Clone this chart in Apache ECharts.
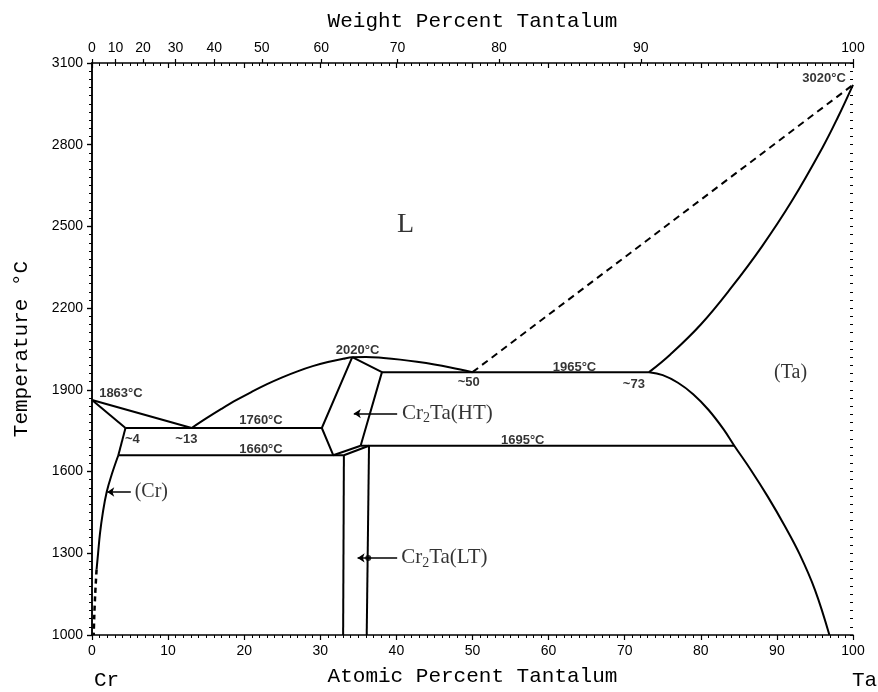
<!DOCTYPE html>
<html>
<head>
<meta charset="utf-8">
<script src="https://cdn.jsdelivr.net/npm/echarts@6/dist/echarts.min.js"></script>
<style>
html,body{margin:0;padding:0;background:#fff;}
#chart{width:878px;height:692px;}
</style>
</head>
<body>
<div id="chart"></div>
<script>
// ---------- data (atomic % Ta, temperature °C) ----------
const tempTicks = [1000, 1300, 1600, 1900, 2200, 2500, 2800, 3100];
const wtTicks = [0, 10, 20, 30, 40, 50, 60, 70, 80, 90, 100];

const crLiquidus = [[0, 1863], [13.1, 1760]];
const crSolidus = [[0, 1863], [4.4, 1760]];
const crSolvusTop = [[4.4, 1760], [3.46, 1660]];
const crSolvus = [[3.46, 1660], [2.6, 1590], [1.93, 1525], [1.4, 1445], [1.05, 1373], [0.8, 1300], [0.6, 1240]];
const crSolvusDashed = [[0.6, 1240], [0.42, 1150], [0.3, 1070], [0.22, 1000]];
const eutectic1760 = [[4.4, 1760], [30.2, 1760]];
const eutectoid1660 = [[3.46, 1660], [33.1, 1660]];
const liquidusMid = [[13.1, 1760], [15, 1795], [17, 1830], [19, 1863], [21, 1893], [23, 1921], [25, 1946], [27, 1968], [29, 1987], [31, 2002], [33, 2014], [34.2, 2020], [36, 2021], [38.3, 2017], [40.5, 2011], [42.7, 2003], [45, 1993], [47.1, 1982], [50, 1965]];
const htLeft = [[34.2, 2020], [30.2, 1760], [31.7, 1660]];
const htRight = [[34.2, 2020], [38.1, 1965], [35.3, 1695]];
const htBottom = [[31.7, 1660], [35.3, 1695]];
const ltTop = [[33.1, 1660], [36.4, 1695]];
const ltLeft = [[33.1, 1660], [33.0, 1000]];
const ltRight = [[36.4, 1695], [36.1, 1000]];
const peritectic1965 = [[38.1, 1965], [73.2, 1965]];
const peritectoid1695 = [[35.3, 1695], [84.4, 1695]];
const taLiquidus = [[73.2, 1965], [76, 2030], [80, 2140], [84, 2275], [88, 2425], [92, 2595], [96, 2790], [98, 2900], [100, 3020]];
const taLiquidusDashed = [[50, 1965], [100, 3020]];
const taSolvus = [[73.2, 1965], [75, 1954], [77, 1926], [79, 1884], [81, 1827], [83, 1755], [84.4, 1695], [86.6, 1605], [88.8, 1508], [91, 1402], [93, 1296], [95, 1166], [96.9, 1000]];

// annotation texts, anchored in data coordinates
const numLabels = [
  ['1863°C', 3.8, 1886], ['~4', 5.3, 1718], ['~13', 12.4, 1718],
  ['1760°C', 22.2, 1788], ['1660°C', 22.2, 1682], ['2020°C', 34.9, 2043],
  ['1965°C', 63.4, 1984], ['~50', 49.5, 1926], ['~73', 71.2, 1919],
  ['1695°C', 56.6, 1715], ['3020°C', 96.2, 3045]
];
const phaseLabels = [
  ['L', 41.2, 2506, 28], ['(Cr)', 7.8, 1525, 20], ['(Ta)', 91.8, 1962, 20],
  ['Cr{s|2}Ta(HT)', 46.7, 1813, 21], ['Cr{s|2}Ta(LT)', 46.3, 1283, 21]
];
const arrows = [
  [[2.0, 1525], [5.1, 1525]],
  [[34.4, 1813], [40.1, 1813]],
  [[34.9, 1283], [40.1, 1283]]
];
const dots = [[36.3, 1283]];

// ---------- helpers ----------
const M_CR = 52.00, M_TA = 180.95;
function wtToAt(w) { const a = w / M_TA, b = (100 - w) / M_CR; return 100 * a / (a + b); }
const wtPos = wtTicks.map(wtToAt);
const minorTemps = [];
for (let t = 1000; t <= 3100; t += 30) minorTemps.push(t);

const BLACK = '#000';
function lineSeries(data, opts) {
  return Object.assign({
    type: 'line', data: data, showSymbol: false, symbol: 'none', silent: true,
    lineStyle: { color: BLACK, width: 2 }, z: 3, animation: false
  }, opts || {});
}

const series = [
  lineSeries(crLiquidus), lineSeries(crSolidus), lineSeries(crSolvusTop),
  lineSeries(crSolvus, { smooth: 0.4 }),
  lineSeries(crSolvusDashed, { smooth: 0.3, lineStyle: { color: BLACK, width: 2.5, type: [5, 4] } }),
  lineSeries(eutectic1760), lineSeries(eutectoid1660),
  lineSeries(liquidusMid, { smooth: 0.4 }),
  lineSeries(htLeft), lineSeries(htRight), lineSeries(htBottom), lineSeries(ltTop),
  lineSeries(ltLeft), lineSeries(ltRight),
  lineSeries(peritectic1965), lineSeries(peritectoid1695),
  lineSeries(taLiquidus, { smooth: 0.4 }),
  lineSeries(taLiquidusDashed, { lineStyle: { color: BLACK, width: 2, type: [7, 5] } }),
  lineSeries(taSolvus, { smooth: 0.4 }),
  {
    type: 'lines', coordinateSystem: 'cartesian2d', silent: true, animation: false,
    symbol: ['arrow', 'none'], symbolSize: [7, 11],
    lineStyle: { color: BLACK, width: 1.5, opacity: 1 },
    data: arrows.map(a => ({ coords: a }))
  },
  {
    type: 'scatter', silent: true, animation: false, symbolSize: 6,
    itemStyle: { color: BLACK }, data: dots
  },
  {
    type: 'scatter', silent: true, animation: false, symbolSize: 0, z: 5,
    data: numLabels.map(l => ({ value: [l[1], l[2]], name: l[0] })),
    label: {
      show: true, position: 'inside', formatter: '{b}', color: BLACK,
      fontFamily: 'Liberation Sans', fontSize: 13, fontWeight: 'bold'
    }
  },
  {
    type: 'scatter', silent: true, animation: false, symbolSize: 0, z: 5,
    data: phaseLabels.map(l => ({ value: [l[1], l[2]], name: l[0], label: { fontSize: l[3] } })),
    label: {
      show: true, position: 'inside', formatter: '{b}', color: BLACK,
      fontFamily: 'Liberation Serif', fontSize: 20,
      rich: { s: { fontFamily: 'Liberation Serif', fontSize: 14, color: BLACK, padding: [10, 0, 0, 0] } }
    }
  }
];

const tickFont = { color: BLACK, fontFamily: 'Liberation Sans', fontSize: 14 };
const nameFont = { color: BLACK, fontFamily: 'Liberation Mono', fontSize: 21 };

const option = {
  animation: false,
  backgroundColor: '#fff',
  grid: { left: 92, right: 25, top: 63, bottom: 53, containLabel: false },
  xAxis: [
    {
      type: 'value', position: 'bottom', min: 0, max: 100, interval: 10,
      name: 'Atomic Percent Tantalum', nameLocation: 'middle', nameGap: 31, nameTextStyle: nameFont,
      axisLine: { show: true, lineStyle: { color: BLACK, width: 1.5 } },
      axisTick: { show: true, inside: false, length: 5, lineStyle: { color: BLACK, width: 1.2 } },
      minorTick: { show: true, splitNumber: 10, length: 3, lineStyle: { color: BLACK, width: 1 } },
      axisLabel: Object.assign({ margin: 9 }, tickFont),
      splitLine: { show: false }
    },
    {
      type: 'value', position: 'top', min: 0, max: 100, interval: 10,
      axisLine: { show: true, lineStyle: { color: BLACK, width: 1.5 } },
      axisTick: { show: true, inside: true, length: 5, lineStyle: { color: BLACK, width: 1.2 } },
      minorTick: { show: true, splitNumber: 10, length: 3, lineStyle: { color: BLACK, width: 1 } },
      axisLabel: { show: false }, splitLine: { show: false }
    },
    {
      type: 'value', position: 'top', min: 0, max: 100,
      name: 'Weight Percent Tantalum', nameLocation: 'middle', nameGap: 31, nameTextStyle: nameFont,
      axisLine: { show: false },
      axisTick: { show: true, inside: false, length: 4, customValues: wtPos, lineStyle: { color: BLACK, width: 1.2 } },
      axisLabel: Object.assign({
        margin: 8, customValues: wtPos,
        formatter: function (v) {
          let best = 0, d = 1e9;
          wtPos.forEach((p, i) => { if (Math.abs(p - v) < d) { d = Math.abs(p - v); best = i; } });
          return String(wtTicks[best]);
        }
      }, tickFont),
      splitLine: { show: false }
    }
  ],
  yAxis: [
    {
      type: 'value', position: 'left', min: 1000, max: 3100,
      name: 'Temperature °C', nameLocation: 'middle', nameGap: 60, nameRotate: 90, nameTextStyle: nameFont,
      axisLine: { show: true, lineStyle: { color: BLACK, width: 1.5 } },
      axisTick: { show: true, inside: false, length: 5, customValues: tempTicks, lineStyle: { color: BLACK, width: 1.2 } },
      axisLabel: Object.assign({ margin: 9, customValues: tempTicks, formatter: v => String(Math.round(v)) }, tickFont),
      splitLine: { show: false }
    },
    {
      type: 'value', position: 'left', min: 1000, max: 3100,
      axisLine: { show: false },
      axisTick: { show: true, inside: false, length: 3, customValues: minorTemps, lineStyle: { color: BLACK, width: 1 } },
      axisLabel: { show: false }, splitLine: { show: false }
    },
    {
      type: 'value', position: 'right', min: 1000, max: 3100,
      axisLine: { show: true, lineStyle: { color: BLACK, width: 1.5 } },
      axisTick: { show: true, inside: true, length: 5, customValues: tempTicks, lineStyle: { color: BLACK, width: 1.2 } },
      axisLabel: { show: false }, splitLine: { show: false }
    },
    {
      type: 'value', position: 'right', min: 1000, max: 3100,
      axisLine: { show: false },
      axisTick: { show: true, inside: true, length: 3, customValues: minorTemps, lineStyle: { color: BLACK, width: 1 } },
      axisLabel: { show: false }, splitLine: { show: false }
    }
  ],
  graphic: [
    { type: 'text', left: 94, top: 670, style: { text: 'Cr', fill: BLACK, font: '21px "Liberation Mono"' } },
    { type: 'text', left: 852, top: 670, style: { text: 'Ta', fill: BLACK, font: '21px "Liberation Mono"' } }
  ],
  series: series
};

const chart = echarts.init(document.getElementById('chart'), null, { renderer: 'canvas' });
chart.setOption(option);
</script>
</body>
</html>
